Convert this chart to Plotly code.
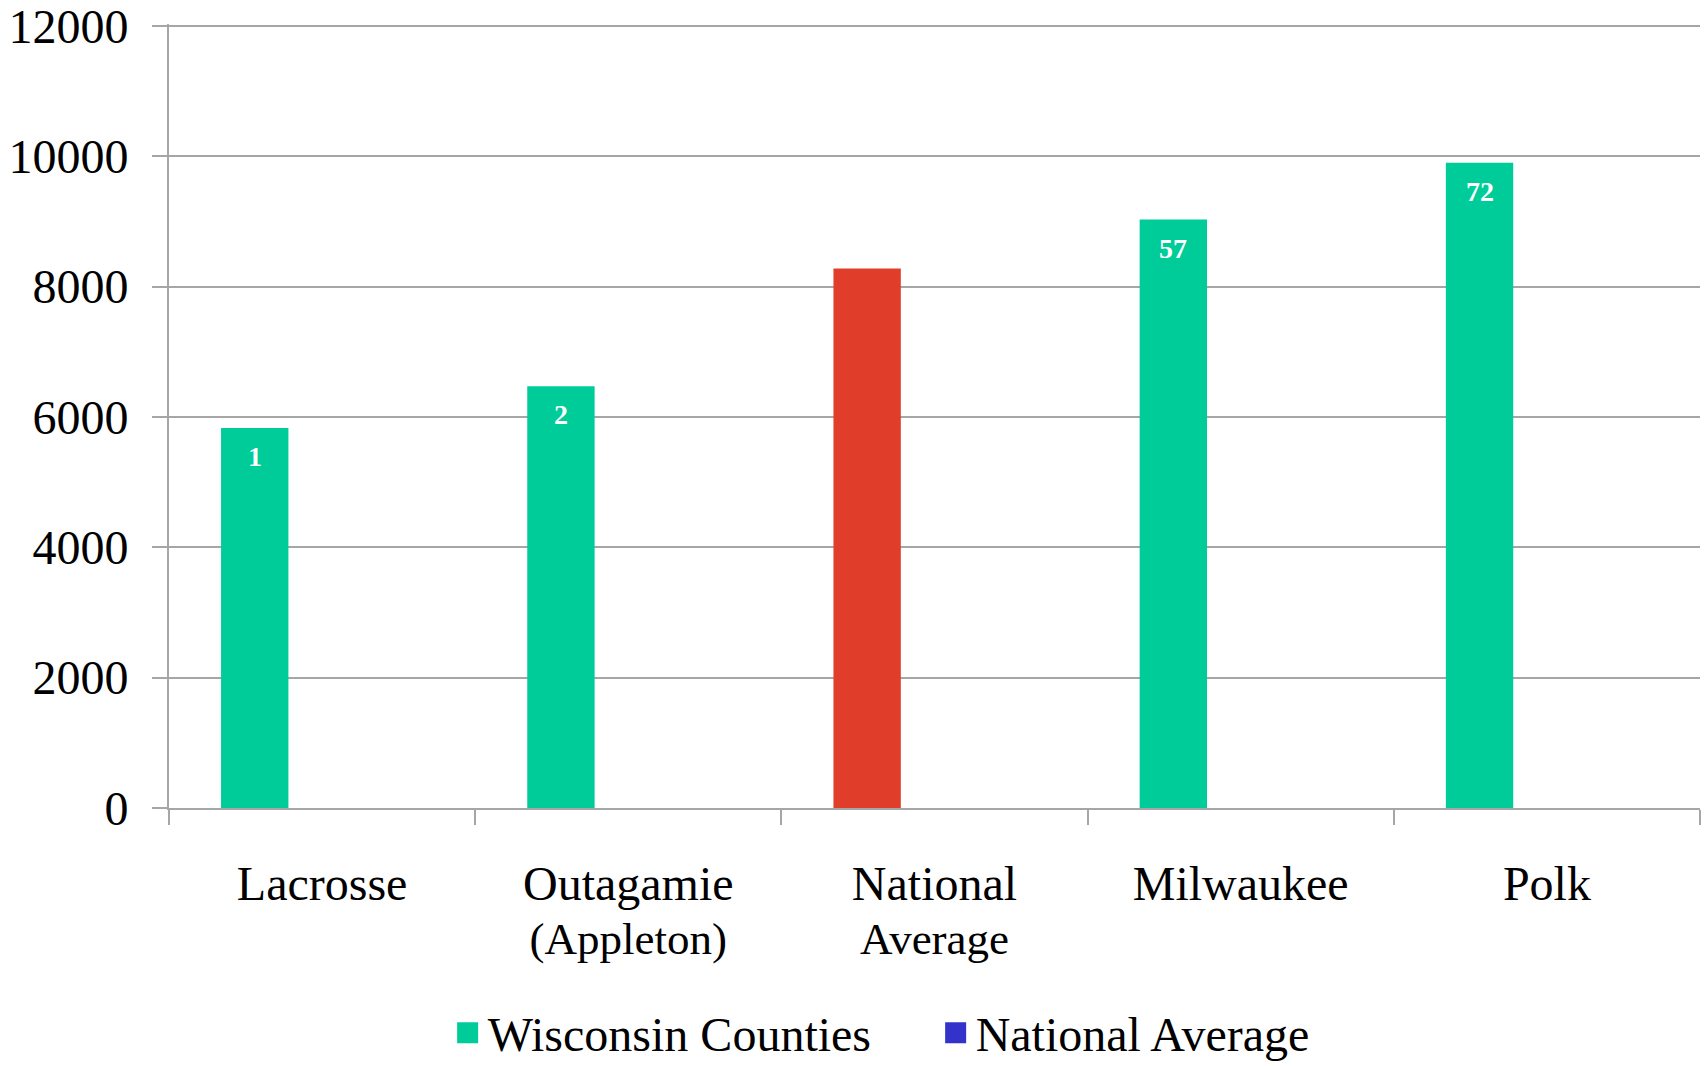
import plotly.graph_objects as go

category_lines = [["Lacrosse"], ["Outagamie", "(Appleton)"], ["National", "Average"], ["Milwaukee"], ["Polk"]]
values = [5830, 6470, 8280, 9030, 9900]
rank_labels = ["1", "2", "", "57", "72"]
bar_colors = ["#00CC99", "#00CC99", "#E03E2B", "#00CC99", "#00CC99"]
series_names = ["Wisconsin Counties", "National Average"]
series_colors = ["#00CC99", "#3333CC"]
y_ticks = [0, 2000, 4000, 6000, 8000, 10000, 12000]
y_ticktext = ["0", "2000", "4000", "6000", "8000", "10000", "12000"]

FONT = "Liberation Serif, Times New Roman, serif"
BAR_W = 0.22
BAR_OFF = -0.33

categories = [" ".join(l) for l in category_lines]
tick_text = [
    "<br>".join('<span style="font-size:%dpx">%s</span>' % (48 if j == 0 else 45, s)
                for j, s in enumerate(l))
    for l in category_lines
]

fig = go.Figure()
fig.add_trace(go.Bar(
    x=categories, y=values,
    marker=dict(color=bar_colors, line=dict(width=0)),
    width=BAR_W, offset=BAR_OFF,
    showlegend=False, hoverinfo="x+y",
))

# legend-only entries
for name, col in zip(series_names, series_colors):
    fig.add_trace(go.Scatter(
        x=[None], y=[None], mode="markers", name=name,
        marker=dict(symbol="square", size=24, color=col, line=dict(width=8, color=col)),
    ))

# rank labels inside bar tops
for i, (v, t) in enumerate(zip(values, rank_labels)):
    if t:
        fig.add_annotation(
            x=i + BAR_OFF + BAR_W / 2, y=v, text=t, showarrow=False,
            yanchor="top", yshift=-11,
            font=dict(family=FONT, size=28, color="white", weight="bold"),
        )

fig.update_layout(
    width=1706, height=1066,
    margin=dict(l=169, r=6, t=24, b=258, autoexpand=False),
    paper_bgcolor="white", plot_bgcolor="white",
    barmode="overlay",
    font=dict(family=FONT, size=46, color="black"),
    legend=dict(
        orientation="h", xref="paper", yref="container",
        x=0.182, xanchor="left", y=0.031, yanchor="middle",
        font=dict(family=FONT, size=48, color="black"),
        itemsizing="trace", itemclick=False,
        entrywidth=443,
    ),
    showlegend=True,
)
fig.update_xaxes(
    type="category", range=[-0.5, 4.5],
    tickvals=categories, ticktext=tick_text,
    showline=True, linecolor="#A6A6A6", linewidth=2,
    ticks="outside", tickson="boundaries", ticklen=15, tickcolor="#A6A6A6", tickwidth=2,
    ticklabelstandoff=41,
    tickfont=dict(family=FONT, size=41, color="black"),
    showgrid=False,
)
fig.update_yaxes(
    range=[0, 12030], tickvals=y_ticks, ticktext=y_ticktext,
    showline=True, linecolor="#A6A6A6", linewidth=2,
    ticks="outside", ticklen=15, tickcolor="#A6A6A6", tickwidth=2,
    ticklabelstandoff=14, ticklabeloverflow="allow",
    showgrid=True, gridcolor="#A6A6A6", gridwidth=2,
    zeroline=False,
    tickfont=dict(family=FONT, size=48, color="black"),
)

fig.write_html("out.html")
